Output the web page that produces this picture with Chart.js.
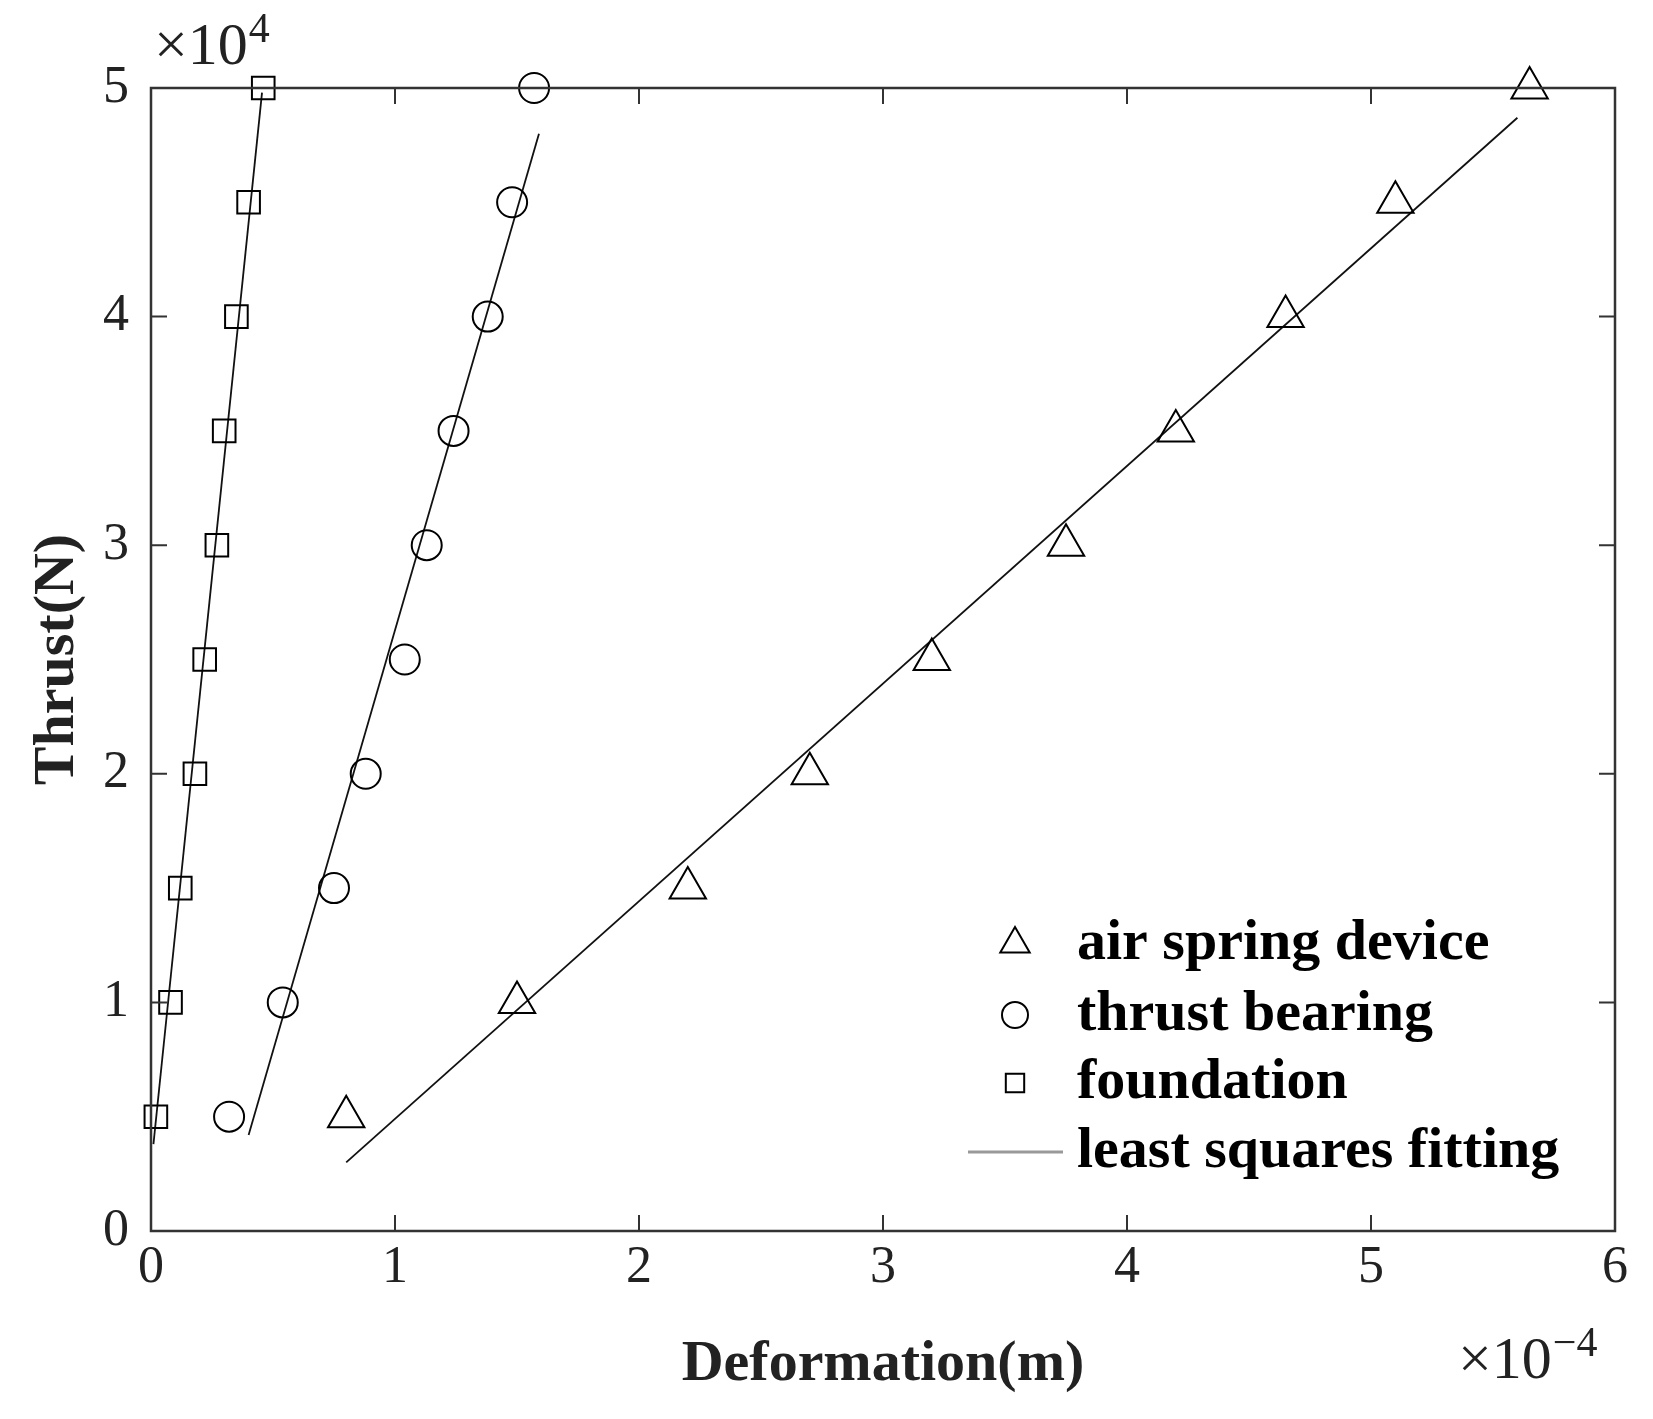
<!DOCTYPE html>
<html>
<head>
<meta charset="utf-8">
<script src="https://cdn.jsdelivr.net/npm/chart.js@4.4.0/dist/chart.umd.min.js"></script>
<style>
  body { margin: 0; background: #fff; }
  #wrap { width: 1653px; height: 1419px; }
</style>
</head>
<body>
<div id="wrap"><canvas id="thrustChart"></canvas></div>
<script>
// muodonmuutos x1e-4 m, työntövoima x1e4 N
const thrustLevels = [0.5, 1, 1.5, 2, 2.5, 3, 3.5, 4, 4.5, 5];
const airSpringDef = [0.80, 1.50, 2.20, 2.70, 3.20, 3.75, 4.20, 4.65, 5.10, 5.65];
const bearingDef = [0.32, 0.54, 0.75, 0.88, 1.04, 1.13, 1.24, 1.38, 1.48, 1.57];
const foundationDef = [0.02, 0.08, 0.12, 0.18, 0.22, 0.27, 0.30, 0.35, 0.40, 0.46];

// sovitussuorien päätepisteet
const airFitX = [0.80, 5.60];
const airFitY = [0.30, 4.87];
const bearingFitX = [0.40, 1.59];
const bearingFitY = [0.42, 4.80];
const foundationFitX = [0.01, 0.455];
const foundationFitY = [0.38, 4.98];

const xTicks = [0, 1, 2, 3, 4, 5, 6];
const yTicks = [0, 1, 2, 3, 4, 5];
const legendLabels = ['air spring device', 'thrust bearing', 'foundation', 'least squares fitting'];

const serif = '"Liberation Serif", "Times New Roman", serif';
const toPoints = (xs, ys) => xs.map((x, i) => ({ x, y: ys[i] }));

function markerSet(label, xs, style, radius) {
  return {
    type: 'scatter',
    label,
    data: toPoints(xs, thrustLevels),
    pointStyle: style,
    pointRadius: radius,
    pointBorderColor: '#000',
    pointBackgroundColor: 'rgba(0,0,0,0)',
    pointBorderWidth: 2,
    showLine: false,
    clip: false
  };
}

function fitSet(xs, ys) {
  return {
    type: 'line',
    label: 'fit',
    data: toPoints(xs, ys),
    borderColor: '#111',
    borderWidth: 1.8,
    pointRadius: 0,
    fill: false,
    clip: false
  };
}

// kerroin "x10^n" tekstinä
function drawPower(ctx, exp, x, y) {
  ctx.font = '60px ' + serif;
  ctx.fillText('\u00d710', x, y);
  const w = ctx.measureText('\u00d710').width;
  ctx.font = '42px ' + serif;
  ctx.fillText(exp, x + w + 1, y - 22);
}

// laatikko, sisäänpäin osoittavat tikit, kertoimet ja selite
const decorPlugin = {
  id: 'decor',
  afterDraw(chart) {
    const ctx = chart.ctx;
    const a = chart.chartArea;
    const xs = chart.scales.x, ys = chart.scales.y;
    ctx.save();
    ctx.strokeStyle = '#333';
    ctx.lineWidth = 2.5;
    ctx.strokeRect(a.left, a.top, a.right - a.left, a.bottom - a.top);
    ctx.lineWidth = 2;
    const tl = 16;
    xTicks.forEach(v => {
      const px = xs.getPixelForValue(v);
      ctx.beginPath();
      ctx.moveTo(px, a.bottom); ctx.lineTo(px, a.bottom - tl);
      ctx.moveTo(px, a.top); ctx.lineTo(px, a.top + tl);
      ctx.stroke();
    });
    yTicks.forEach(v => {
      const py = ys.getPixelForValue(v);
      ctx.beginPath();
      ctx.moveTo(a.left, py); ctx.lineTo(a.left + tl, py);
      ctx.moveTo(a.right, py); ctx.lineTo(a.right - tl, py);
      ctx.stroke();
    });

    ctx.fillStyle = '#222';
    ctx.textBaseline = 'alphabetic';
    ctx.textAlign = 'left';
    drawPower(ctx, '4', 154, 64);
    drawPower(ctx, '\u22124', 1458, 1378);

    // selite
    const lx = 1015, tx = 1077;
    const rows = [944, 1015, 1083, 1152];
    const styles = ['triangle', 'circle', 'rect'];
    const radii = [17, 13, 13];
    ctx.strokeStyle = '#000';
    ctx.fillStyle = 'rgba(0,0,0,0)';
    ctx.lineWidth = 2;
    styles.forEach((s, i) => {
      Chart.helpers.drawPoint(ctx, { pointStyle: s, radius: radii[i], rotation: 0, borderWidth: 2 }, lx, rows[i]);
    });
    ctx.strokeStyle = '#999';
    ctx.lineWidth = 3;
    ctx.beginPath();
    ctx.moveTo(968, rows[3]); ctx.lineTo(1063, rows[3]);
    ctx.stroke();
    ctx.fillStyle = '#000';
    ctx.font = 'bold 58px ' + serif;
    ctx.textBaseline = 'middle';
    legendLabels.forEach((t, i) => ctx.fillText(t, tx, rows[i]));
    ctx.restore();
  }
};

new Chart(document.getElementById('thrustChart'), {
  data: {
    datasets: [
      markerSet(legendLabels[0], airSpringDef, 'triangle', 21),
      markerSet(legendLabels[1], bearingDef, 'circle', 15),
      markerSet(legendLabels[2], foundationDef, 'rect', 16),
      fitSet(airFitX, airFitY),
      fitSet(bearingFitX, bearingFitY),
      fitSet(foundationFitX, foundationFitY)
    ]
  },
  options: {
    responsive: true,
    maintainAspectRatio: false,
    animation: false,
    layout: { padding: { top: 88, right: 38, left: 0, bottom: 0 } },
    plugins: { legend: { display: false }, tooltip: { enabled: false } },
    scales: {
      x: {
        type: 'linear',
        min: 0, max: 6,
        afterBuildTicks: s => { s.ticks = xTicks.map(v => ({ value: v })); },
        afterFit: s => { s.height = 188; },
        grid: { display: false, drawTicks: false },
        border: { display: false },
        ticks: { font: { family: serif, size: 52 }, color: '#222', padding: 6 },
        title: {
          display: true, text: 'Deformation(m)', color: '#222',
          font: { family: serif, size: 58, weight: 'bold' },
          padding: { top: 0, bottom: 19 }
        }
      },
      y: {
        type: 'linear',
        min: 0, max: 5,
        afterBuildTicks: s => { s.ticks = yTicks.map(v => ({ value: v })); },
        afterFit: s => { s.width = 151; },
        grid: { display: false, drawTicks: false },
        border: { display: false },
        ticks: { font: { family: serif, size: 52 }, color: '#222', padding: 22 },
        title: {
          display: true, text: 'Thrust(N)', color: '#222',
          font: { family: serif, size: 58, weight: 'bold' },
          padding: { top: 23, bottom: 0 }
        }
      }
    }
  },
  plugins: [decorPlugin]
});
</script>
</body>
</html>
